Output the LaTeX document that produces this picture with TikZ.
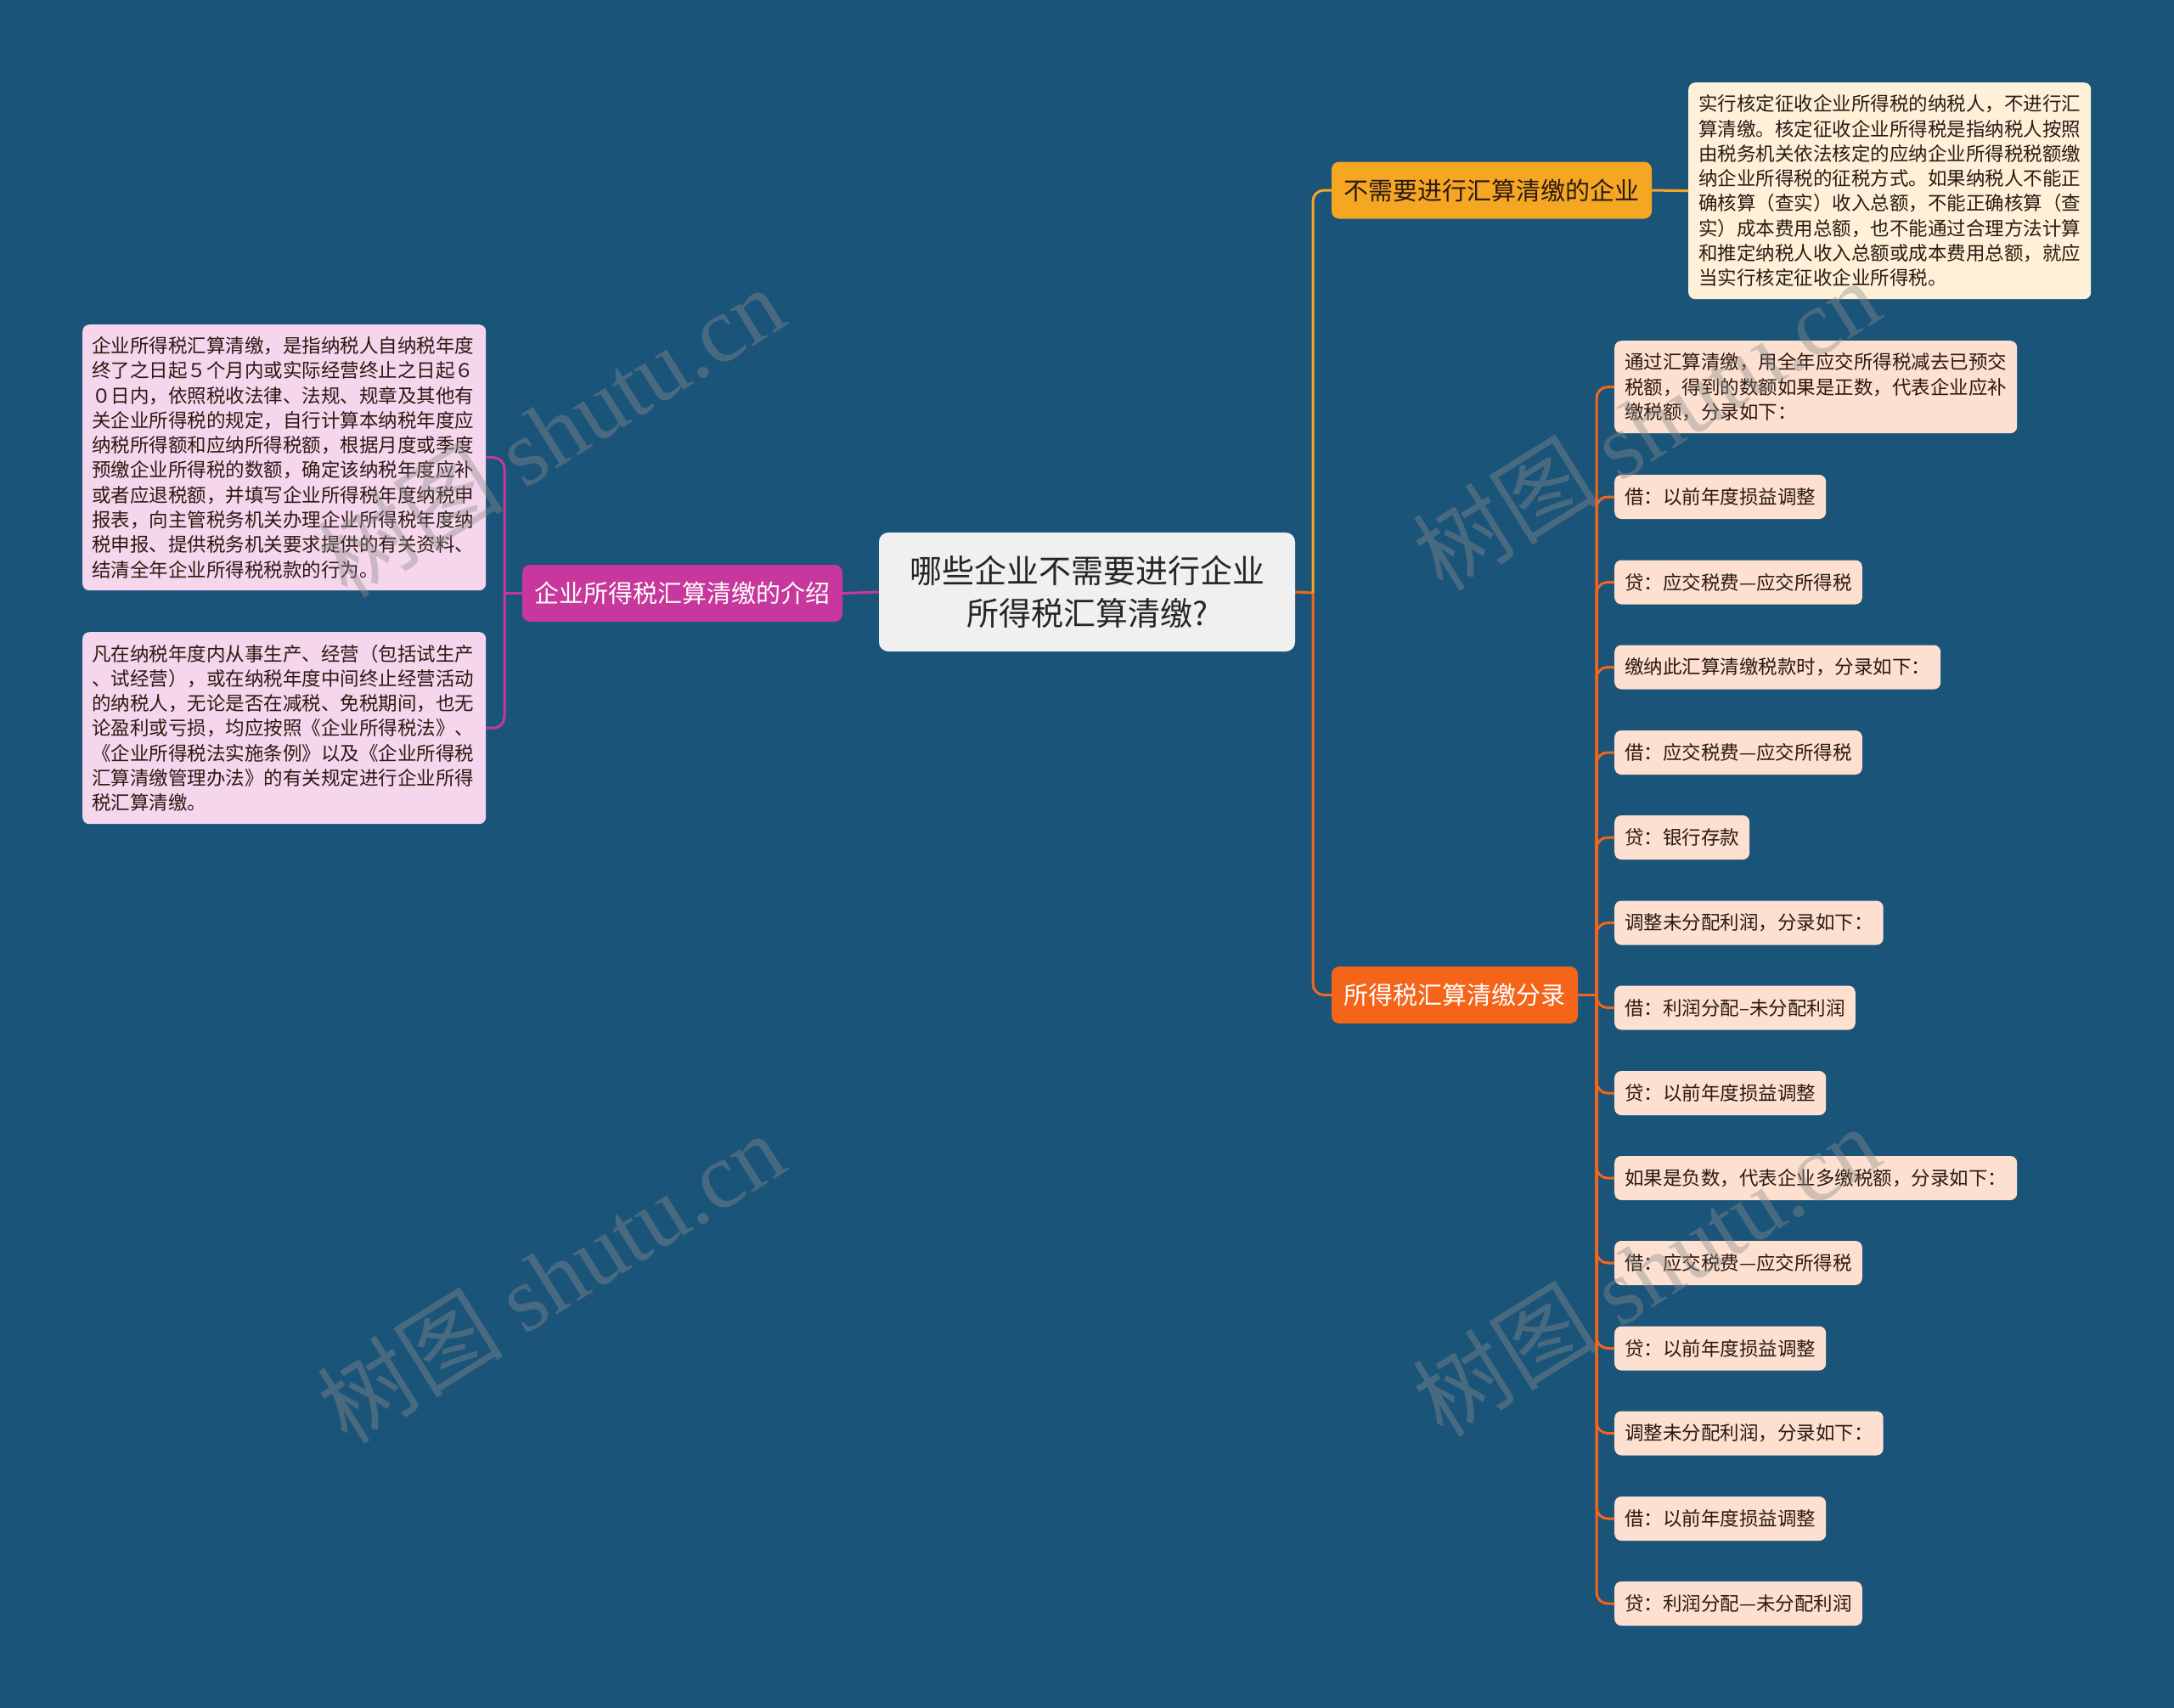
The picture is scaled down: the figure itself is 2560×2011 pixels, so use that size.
\documentclass[tikz,border=0pt]{standalone}
\usepackage{fontspec}
\setmainfont{Noto Sans CJK SC}
\newfontfamily\wmserif{Liberation Serif}
\definecolor{bgc}{HTML}{1B5479}
\definecolor{centerfill}{HTML}{F0F0F0}
\definecolor{magc}{HTML}{C8379B}
\definecolor{pinkfill}{HTML}{F5D6EC}
\definecolor{yelc}{HTML}{F5A623}
\definecolor{creamfill}{HTML}{FEF1D8}
\definecolor{orac}{HTML}{F4651A}
\definecolor{peachfill}{HTML}{FDE0D0}
\definecolor{darktext}{HTML}{2A1A12}
\definecolor{wmc}{HTML}{8C8C8C}
\tikzset{
  boxbase/.style={rounded corners=8, inner ysep=0, text=darktext},
  bigtext/.style={boxbase, align=left, inner xsep=11, text width=453,
    font=\fontsize{22.5}{29.3}\selectfont, anchor=north west},
  leaf/.style={boxbase, fill=peachfill, inner xsep=12, minimum height=52,
    anchor=west, font=\fontsize{22.5}{29.3}\selectfont},
  mainnode/.style={rounded corners=9, inner sep=0, minimum height=67,
    font=\fontsize{29}{36}\selectfont},
  conn/.style={line width=3, rounded corners=13},
  wm/.style={rotate=32, text=wmc, opacity=0.4}
}
\begin{document}
\begin{tikzpicture}[x=1pt,y=-1pt]
\fill[bgc] (0,0) rectangle (2560,2011);
\useasboundingbox (0,0) rectangle (2560,2011);

% center
\node[rounded corners=11, fill=centerfill, minimum width=490, minimum height=140,
  inner sep=0, align=center, text=black!85, font=\fontsize{38}{50}\selectfont]
  (c) at (1280,697) {哪些企业不需要进行企业\\所得税汇算清缴?};

% left branch
\node[mainnode, fill=magc, text=white, minimum width=377] (l) at (803.5,698.5)
  {企业所得税汇算清缴的介绍};
\node[bigtext, fill=pinkfill, minimum height=313] (lb1) at (97,382)
  {企业所得税汇算清缴，是指纳税人自纳税年度\\
   终了之日起５个月内或实际经营终止之日起６\\
   ０日内，依照税收法律、法规、规章及其他有\\
   关企业所得税的规定，自行计算本纳税年度应\\
   纳税所得额和应纳所得税额，根据月度或季度\\
   预缴企业所得税的数额，确定该纳税年度应补\\
   或者应退税额，并填写企业所得税年度纳税申\\
   报表，向主管税务机关办理企业所得税年度纳\\
   税申报、提供税务机关要求提供的有关资料、\\
   结清全年企业所得税税款的行为。};
\node[bigtext, fill=pinkfill, minimum height=226] (lb2) at (97,744)
  {凡在纳税年度内从事生产、经营（包括试生产\\
   、试经营），或在纳税年度中间终止经营活动\\
   的纳税人，无论是否在减税、免税期间，也无\\
   论盈利或亏损，均应按照《企业所得税法》、\\
   《企业所得税法实施条例》以及《企业所得税\\
   汇算清缴管理办法》的有关规定进行企业所得\\
   税汇算清缴。};

% right top branch
\node[mainnode, fill=yelc, text=darktext, minimum width=377] (t) at (1756.5,224)
  {不需要进行汇算清缴的企业};
\node[bigtext, fill=creamfill, inner xsep=12, text width=450, minimum height=255] (tb) at (1988,97)
  {实行核定征收企业所得税的纳税人，不进行汇\\
   算清缴。核定征收企业所得税是指纳税人按照\\
   由税务机关依法核定的应纳企业所得税税额缴\\
   纳企业所得税的征税方式。如果纳税人不能正\\
   确核算（查实）收入总额，不能正确核算（查\\
   实）成本费用总额，也不能通过合理方法计算\\
   和推定纳税人收入总额或成本费用总额，就应\\
   当实行核定征收企业所得税。};

% right bottom branch
\node[mainnode, fill=orac, text=white, minimum width=290] (b) at (1713,1171.5)
  {所得税汇算清缴分录};
\node[bigtext, fill=peachfill, inner xsep=12, text width=450, minimum height=109] (r1) at (1901,401)
  {通过汇算清缴，用全年应交所得税减去已预交\\
   税额，得到的数额如果是正数，代表企业应补\\
   缴税额，分录如下：};
\node[leaf] (r2) at (1901,585) {借：以前年度损益调整};
\node[leaf] (r3) at (1901,685.5) {贷：应交税费—应交所得税};
\node[leaf] (r4) at (1901,785.5) {缴纳此汇算清缴税款时，分录如下：};
\node[leaf] (r5) at (1901,886) {借：应交税费—应交所得税};
\node[leaf] (r6) at (1901,986) {贷：银行存款};
\node[leaf] (r7) at (1901,1086.5) {调整未分配利润，分录如下：};
\node[leaf] (r8) at (1901,1186.5) {借：利润分配–未分配利润};
\node[leaf] (r9) at (1901,1287) {贷：以前年度损益调整};
\node[leaf] (r10) at (1901,1387) {如果是负数，代表企业多缴税额，分录如下：};
\node[leaf] (r11) at (1901,1487) {借：应交税费—应交所得税};
\node[leaf] (r12) at (1901,1587.5) {贷：以前年度损益调整};
\node[leaf] (r13) at (1901,1687.5) {调整未分配利润，分录如下：};
\node[leaf] (r14) at (1901,1788) {借：以前年度损益调整};
\node[leaf] (r15) at (1901,1888) {贷：利润分配—未分配利润};

% junction coordinates
\coordinate (lj) at (594,698.5);
\coordinate (rj) at (1546,698);
\coordinate (bj) at (1880,1171.5);

% connectors
\draw[conn, magc] (c.west) -- (l.east);
\draw[conn, magc] (l.west) -- (lj);
\draw[conn, magc] (lj) |- (lb1.east);
\draw[conn, magc] (lj) |- (lb2.east);

\draw[conn, orac] (c.east) -- (rj);
\draw[conn, yelc] (rj) |- (t.west);
\draw[conn, orac] (rj) |- (b.west);
\draw[conn, yelc] (t.east) -- (tb.west);

\draw[conn, orac] (b.east) -- (bj);
\foreach \i in {1,...,15} {
  \draw[conn, orac] (bj) |- (r\i.west);
}

% watermarks
\foreach \wx/\wy [count=\k] in {648/508, 648/1504, 1938/500, 1938/1496} {
  \node[wm, font=\fontsize{110}{110}\selectfont] (wm\k) at (\wx,\wy)
    {树图 {\wmserif shutu.cn}};
}
\end{tikzpicture}
\end{document}
